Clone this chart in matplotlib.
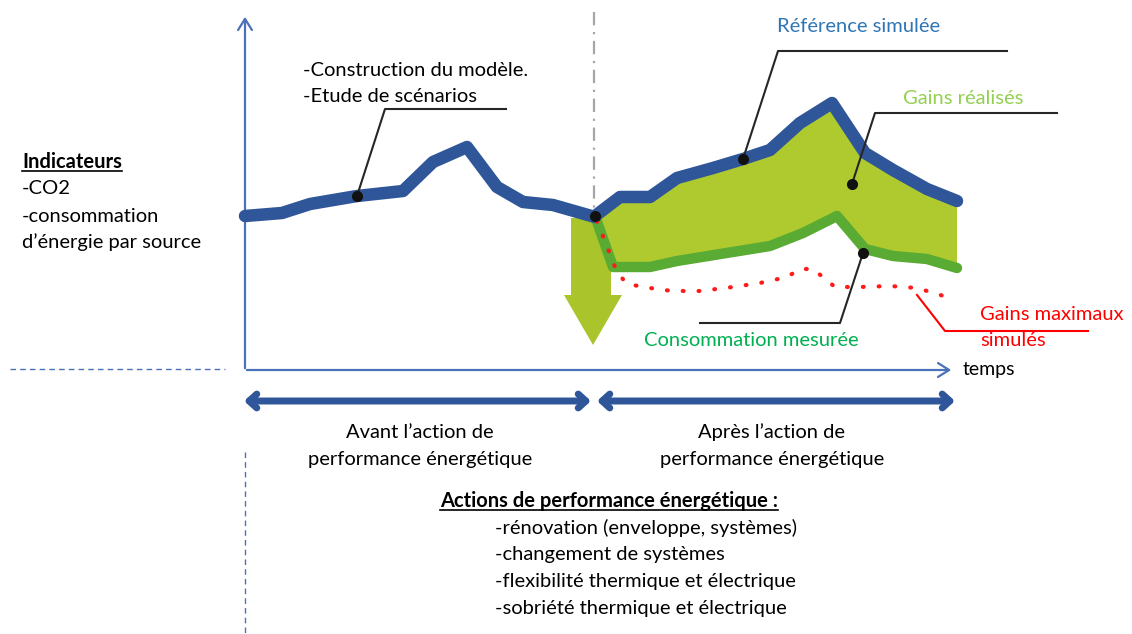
import matplotlib
matplotlib.use("Agg")
import matplotlib.pyplot as plt
import numpy as np

plt.rcParams['font.family'] = ['Lato', 'DejaVu Sans']

# series, in picture units (x = time, y = level, downward)
ref_before_t = [245, 282, 310, 357, 403, 433, 467, 497, 523, 553, 595]
ref_before_v = [216, 213, 204, 196, 191, 162, 147, 187, 202, 205, 217]
ref_after_t = [595, 620, 650, 677, 713, 743, 770, 800, 832, 865, 893, 927, 957]
ref_after_v = [216, 197, 197, 178, 168, 159, 150, 123, 103, 153, 170, 189, 201]
meas_t = [595, 613, 650, 677, 770, 803, 837, 865, 893, 927, 957]
meas_v = [216, 267, 267, 261, 246, 233, 216, 249, 256, 259, 268]
maxg_t = [597, 617, 627, 650, 672, 700, 733, 760, 787, 800, 813, 835, 860, 890, 917, 947]
maxg_v = [221, 272, 284, 288, 291, 291, 287, 283, 277, 269, 269, 287, 287, 286, 288, 297]

blue = '#30569a'
axis_blue = '#4a72b8'
fill_col = '#afca2f'
green = '#5aab33'

fig = plt.figure(figsize=(11.32, 6.34), dpi=100)
ax = fig.add_axes([0, 0, 1, 1])
ax.set_xlim(0, 1132)
ax.set_ylim(634, 0)
ax.axis('off')

# axes of the diagram
ax.annotate('', xy=(245, 14), xytext=(245, 371),
            arrowprops=dict(arrowstyle='->,head_length=0.8,head_width=0.5', color=axis_blue, lw=1.6))
ax.annotate('', xy=(954, 370), xytext=(244, 370),
            arrowprops=dict(arrowstyle='->,head_length=0.8,head_width=0.5', color=axis_blue, lw=1.6))
ax.text(963, 370, 'temps', fontsize=14, va='center', ha='left')

# separator
ax.plot([594, 594], [12, 214], color='#a6a6a6', lw=1.6, linestyle=(0, (6, 3, 1, 3)))

# big arrow
ax.fill([571, 611, 611, 622, 593, 564, 571], [218, 218, 295, 295, 345, 295, 295],
        color='#a9c52b', lw=0, zorder=1)

# gains area
poly_t = np.concatenate([ref_after_t, meas_t[::-1]])
poly_v = np.concatenate([ref_after_v, meas_v[::-1]])
ax.fill(poly_t, poly_v, color=fill_col, lw=0, zorder=2)

ax.plot(ref_before_t, ref_before_v, color=blue, lw=9, solid_capstyle='round', solid_joinstyle='round', zorder=4)
ax.plot(ref_after_t, ref_after_v, color=blue, lw=9, solid_capstyle='round', solid_joinstyle='round', zorder=4)
ax.plot(meas_t, meas_v, color=green, lw=7.5, solid_capstyle='round', solid_joinstyle='round', zorder=3)
ax.plot(maxg_t, maxg_v, color='#ff1a1a', lw=3, dashes=(0.2, 3.6), dash_capstyle='round', zorder=5)

# callouts
callouts = [
    ([357, 385, 506], [196, 109, 109], '#262626'),
    ([743, 778, 1007], [159, 51, 51], '#262626'),
    ([852, 875, 1057], [184, 113, 113], '#262626'),
    ([863, 840, 700], [253, 323, 323], '#262626'),
    ([917, 945, 1088], [295, 331, 331], '#ff0000'),
]
for xs, ys, c in callouts:
    ax.plot(xs, ys, color=c, lw=1.5, zorder=6)
for xs, ys, c in callouts[:4]:
    ax.plot(xs[0], ys[0], 'o', color='#111111', ms=7, zorder=7)
ax.plot(595, 216, 'o', color='#111111', ms=7, zorder=7)

fs = 14.5
ax.text(303, 70, '-Construction du modèle.', fontsize=fs, va='center')
ax.text(303, 96, '-Etude de scénarios', fontsize=fs, va='center')
ax.text(859, 27, 'Référence simulée', fontsize=fs, va='center', ha='center', color='#2e75b6')
ax.text(963, 99, 'Gains réalisés', fontsize=fs, va='center', ha='center', color='#92d050')
ax.text(751, 341, 'Consommation mesurée', fontsize=fs, va='center', ha='center', color='#00b050')
ax.text(980, 314, 'Gains maximaux', fontsize=fs, va='center', color='#ff0000')
ax.text(980, 340, 'simulés', fontsize=fs, va='center', color='#ff0000')

# indicators
t1 = ax.text(22, 162, 'Indicateurs', fontsize=fs, va='center', fontweight='bold')
ax.text(22, 189, '-CO2', fontsize=fs, va='center')
ax.text(22, 216, '-consommation', fontsize=fs, va='center')
ax.text(22, 242, 'd\u2019énergie par source', fontsize=fs, va='center')
ax.plot([10, 225], [369, 369], color=axis_blue, lw=1, linestyle=(0, (4, 3)))
ax.plot([245, 245], [452, 634], color=axis_blue, lw=1, linestyle=(0, (4, 3)))

# periods
for x0, x1 in [(244, 591), (597, 955)]:
    ax.annotate('', xy=(x0, 401), xytext=(x1, 401),
                arrowprops=dict(arrowstyle='<->,head_length=0.55,head_width=0.5', color=blue, lw=5,
                                shrinkA=0, shrinkB=0))
ax.text(420, 432, 'Avant l\u2019action de', fontsize=fs, va='center', ha='center')
ax.text(420, 459, 'performance énergétique', fontsize=fs, va='center', ha='center')
ax.text(772, 432, 'Après l\u2019action de', fontsize=fs, va='center', ha='center')
ax.text(772, 459, 'performance énergétique', fontsize=fs, va='center', ha='center')

t2 = ax.text(440, 501, 'Actions de performance énergétique :', fontsize=fs, va='center', fontweight='bold')
actions = ['-rénovation (enveloppe, systèmes)', '-changement de systèmes',
           '-flexibilité thermique et électrique', '-sobriété thermique et électrique']
for i, s in enumerate(actions):
    ax.text(495, 528 + i * 26.7, s, fontsize=fs, va='center')

# underlines
r = fig.canvas.get_renderer()
inv = ax.transData.inverted()
for t in (t1, t2):
    bb = t.get_window_extent(r)
    (xa, ya), (xb, yb) = inv.transform([[bb.x0, bb.y0], [bb.x1, bb.y1]])
    ax.plot([xa, xb], [ya - 1, ya - 1], color='black', lw=1.2)

fig.savefig('out.png', dpi=100)
